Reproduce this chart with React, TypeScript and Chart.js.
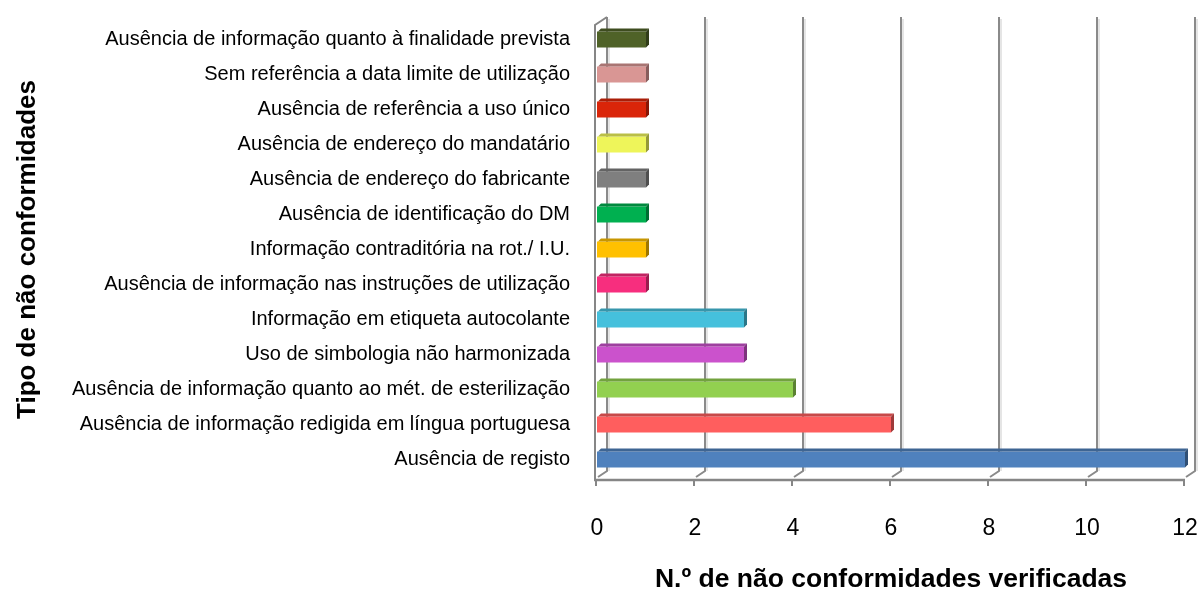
import React, { useEffect, useRef } from "react";
import { Chart, registerables } from "chart.js";

Chart.register(...registerables);

const categories = [
  "Ausência de informação quanto à finalidade prevista",
  "Sem referência a data limite de utilização",
  "Ausência de referência a uso único",
  "Ausência de endereço do mandatário",
  "Ausência de endereço do fabricante",
  "Ausência de identificação do DM",
  "Informação contraditória na rot./ I.U.",
  "Ausência de informação nas instruções de utilização",
  "Informação em etiqueta autocolante",
  "Uso de simbologia não harmonizada",
  "Ausência de informação quanto ao mét. de esterilização",
  "Ausência de informação redigida em língua portuguesa",
  "Ausência de registo",
];

const values = [1, 1, 1, 1, 1, 1, 1, 1, 3, 3, 4, 6, 12];

const barColors = [
  "#4F6228",
  "#D99694",
  "#DA2509",
  "#EEF55A",
  "#7F7F7F",
  "#00B050",
  "#FFC000",
  "#F72E7E",
  "#45C0DC",
  "#CB52CC",
  "#92D050",
  "#FF5E5E",
  "#4F81BD",
];

const tickValues = [0, 2, 4, 6, 8, 10, 12];

const xTitle = "N.º de não conformidades verificadas";
const yTitle = "Tipo de não conformidades";

function shade(hex: string, f: number): string {
  const n = parseInt(hex.slice(1), 16);
  const r = Math.round(((n >> 16) & 255) * f);
  const g = Math.round(((n >> 8) & 255) * f);
  const b = Math.round((n & 255) * f);
  return `rgb(${r},${g},${b})`;
}

const DX = 10;

const wallPlugin = {
  id: "wall3d",
  beforeDatasetsDraw(chart: any) {
    const { ctx, chartArea } = chart;
    const xs = chart.scales.x;
    const backTop = chartArea.top - 5;
    const backBottom = chartArea.bottom - 6;
    const frontTop = chartArea.top + 3;
    const frontBottom = chartArea.bottom + 3;
    ctx.save();
    tickValues.forEach((v) => {
      const x = xs.getPixelForValue(v);
      ctx.strokeStyle = "#dcdcdc";
      ctx.lineWidth = 1.5;
      ctx.beginPath();
      ctx.moveTo(x + DX + 2, backTop + 2);
      ctx.lineTo(x + DX + 2, backBottom);
      ctx.stroke();
      ctx.strokeStyle = "#8a8a8a";
      ctx.lineWidth = 2;
      ctx.beginPath();
      ctx.moveTo(x + DX, backTop);
      ctx.lineTo(x + DX, backBottom);
      ctx.lineTo(x + 1, frontBottom - 3);
      ctx.stroke();
    });
    const x0 = xs.getPixelForValue(0);
    ctx.strokeStyle = "#868686";
    ctx.lineWidth = 2;
    ctx.beginPath();
    ctx.moveTo(x0 + DX, backTop);
    ctx.lineTo(x0 - 2, frontTop);
    ctx.lineTo(x0 - 2, frontBottom);
    ctx.stroke();
    ctx.lineWidth = 2.5;
    ctx.beginPath();
    ctx.moveTo(x0 - 3, frontBottom);
    ctx.lineTo(xs.getPixelForValue(12), frontBottom);
    ctx.stroke();
    ctx.lineWidth = 2;
    tickValues.forEach((v) => {
      const x = xs.getPixelForValue(v);
      ctx.beginPath();
      ctx.moveTo(x - 1, frontBottom);
      ctx.lineTo(x - 1, frontBottom + 6);
      ctx.stroke();
    });
    ctx.restore();
  },
  afterDatasetsDraw(chart: any) {
    const { ctx } = chart;
    const meta = chart.getDatasetMeta(0);
    const d = 3;
    ctx.save();
    meta.data.forEach((bar: any, i: number) => {
      const p = bar.getProps(["x", "y", "base", "height"], true);
      const t = p.y - p.height / 2;
      const b = p.y + p.height / 2;
      const col = barColors[i];
      ctx.fillStyle = shade(col, 0.78);
      ctx.beginPath();
      ctx.moveTo(p.base + 1, t);
      ctx.lineTo(p.base + 1 + d, t - d);
      ctx.lineTo(p.x + d, t - d);
      ctx.lineTo(p.x, t);
      ctx.closePath();
      ctx.fill();
      ctx.fillStyle = shade(col, 0.62);
      ctx.beginPath();
      ctx.moveTo(p.x, t);
      ctx.lineTo(p.x + d, t - d);
      ctx.lineTo(p.x + d, b - d);
      ctx.lineTo(p.x, b);
      ctx.closePath();
      ctx.fill();
    });
    ctx.restore();
  },
};

export default function App() {
  const ref = useRef<HTMLCanvasElement | null>(null);

  useEffect(() => {
    document.body.style.margin = "0";
    if (!ref.current) return;
    const chart = new Chart(ref.current, {
      type: "bar",
      data: {
        labels: categories,
        datasets: [
          {
            data: values,
            backgroundColor: barColors,
            borderWidth: 0,
            barPercentage: 0.46,
            categoryPercentage: 1,
          },
        ],
      },
      plugins: [wallPlugin],
      options: {
        indexAxis: "y",
        animation: false,
        responsive: false,
        maintainAspectRatio: false,
        layout: { padding: { top: 22, right: 15, left: 0, bottom: 0 } },
        plugins: {
          legend: { display: false },
          tooltip: { enabled: false },
        },
        scales: {
          x: {
            min: 0,
            max: 12,
            afterBuildTicks: (scale: any) => {
              scale.ticks = tickValues.map((v) => ({ value: v }));
            },
            afterFit: (scale: any) => {
              scale.height = 119;
              scale.paddingLeft = 0;
              scale.paddingRight = 0;
            },
            grid: { display: false, drawTicks: false },
            border: { display: false },
            ticks: {
              padding: 38,
              color: "#000",
              maxRotation: 0,
              font: { family: "'Liberation Sans', Arial, sans-serif", size: 23 },
            },
            title: {
              display: true,
              text: xTitle,
              color: "#000",
              padding: { top: 14, bottom: 0 },
              font: { family: "'Liberation Sans', Arial, sans-serif", size: 26.5, weight: "bold" },
            },
          },
          y: {
            afterFit: (scale: any) => {
              scale.width = 597;
              scale.paddingTop = 0;
              scale.paddingBottom = 0;
            },
            grid: { display: false, drawTicks: false },
            border: { display: false },
            ticks: {
              padding: 27,
              color: "#000",
              autoSkip: false,
              font: { family: "'Liberation Sans', Arial, sans-serif", size: 20 },
            },
            title: {
              display: true,
              text: yTitle,
              color: "#000",
              padding: { top: 12, bottom: 0 },
              font: { family: "'Liberation Sans', Arial, sans-serif", size: 26, weight: "bold" },
            },
          },
        },
      },
    });
    return () => chart.destroy();
  }, []);

  return (
    <div style={{ position: "fixed", left: 0, top: 0, width: 1200, height: 596, background: "#fff" }}>
      <canvas ref={ref} width={1200} height={596} />
    </div>
  );
}
